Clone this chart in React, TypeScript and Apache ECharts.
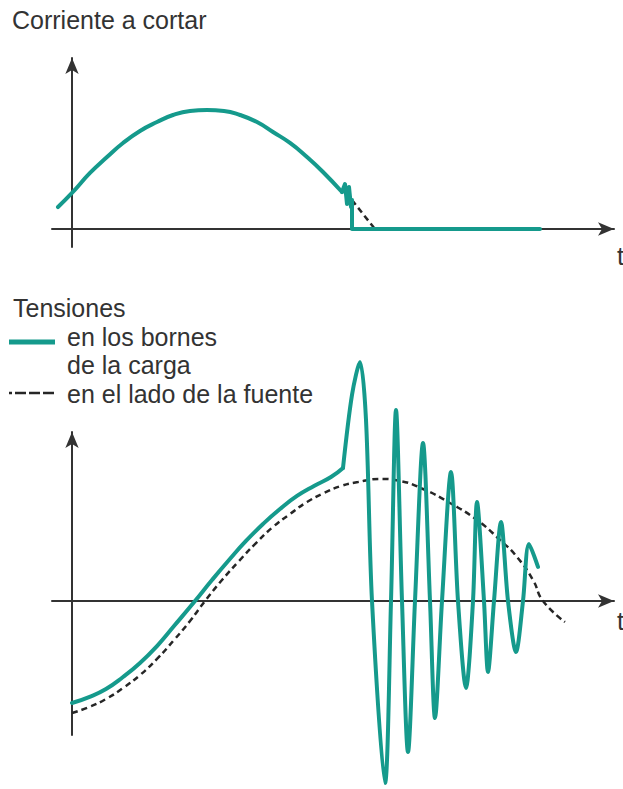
import { useEffect, useRef } from "react";
import * as echarts from "echarts";

const TEAL = "#159a8c";
const INK = "#333333";
const DASH = "#262626";
const FONT = "'Liberation Sans', Arial, sans-serif";

// Upper panel: current to be interrupted (time in arbitrary units, current per-unit of its peak)
const currentT = [-7, 0, 9, 17.5, 25.5, 34, 42.5, 50.5, 59, 67.5, 76, 84, 92.5, 100.5, 109, 117.5, 125.5, 135];
const currentI = [0.185, 0.303, 0.471, 0.605, 0.723, 0.824, 0.899, 0.958, 0.992, 1.0, 0.992, 0.958, 0.899, 0.815, 0.723, 0.605, 0.479, 0.311];
// current chopping, then zero current after the break
const chopT = [135, 136.5, 137.5, 138.5, 139.5, 140, 140, 234];
const chopI = [0.311, 0.378, 0.21, 0.353, 0.185, 0.244, 0, 0];
// natural zero the current would have reached
const prospectiveT = [140, 145.5, 151.5];
const prospectiveI = [0.244, 0.126, 0];

// Lower panel: voltages (per-unit of the source peak)
const sourceT = [0, 8.5, 17, 25.5, 34, 42.5, 51, 59, 66.5, 75, 83.5, 92, 100.5, 109, 117.5, 126, 134.5, 143, 154, 164, 175.5, 189, 202.5, 214, 222.5, 230.5, 235.5, 246.5];
const sourceV = [-0.918, -0.869, -0.803, -0.713, -0.607, -0.475, -0.32, -0.164, 0, 0.172, 0.328, 0.475, 0.607, 0.713, 0.811, 0.885, 0.943, 0.975, 1.0, 0.984, 0.918, 0.803, 0.664, 0.5, 0.361, 0.172, 0, -0.172];

const loadT = [0, 8.5, 17, 25.5, 34, 42.5, 51, 61.5, 70, 78.5, 87, 95.5, 104, 112.5, 121, 129.5, 135.5];
const loadV = [-0.836, -0.787, -0.721, -0.623, -0.508, -0.369, -0.205, 0, 0.172, 0.336, 0.492, 0.631, 0.754, 0.861, 0.943, 1.016, 1.09];

// load-side oscillation after the current is chopped
const recoveryT = [135.5, 140, 144, 147, 150, 156.5, 159.5, 162, 165, 168, 171.5, 175.5, 179, 181.5, 185, 189.5, 193, 197, 200.5, 202.5, 206, 208, 211, 214.5, 218, 222, 225.5, 228.5, 233];
const recoveryV = [1.09, 1.689, 1.959, 1.484, 0, -1.492, 0, 1.566, 0, -1.238, 0, 1.295, 0, -0.959, 0, 1.057, 0, -0.713, 0, 0.811, 0, -0.582, 0, 0.648, 0, -0.418, 0, 0.467, 0.279];

const zip = (xs: number[], ys: number[]) => xs.map((x, i) => [x, ys[i]]);

const axisArrow = {
  show: true,
  onZero: true,
  symbol: ["none", "arrow"],
  symbolSize: [10, 16],
  lineStyle: { color: INK, width: 2 },
};

function makeXAxis(gridIndex: number) {
  return {
    type: "value",
    gridIndex,
    min: -10,
    max: 271,
    axisLine: axisArrow,
    axisTick: { show: false },
    axisLabel: { show: false },
    splitLine: { show: false },
  };
}

function makeYAxis(gridIndex: number, min: number, max: number) {
  return {
    type: "value",
    gridIndex,
    min,
    max,
    axisLine: axisArrow,
    axisTick: { show: false },
    axisLabel: { show: false },
    splitLine: { show: false },
  };
}

const label = (text: string, x: number, y: number) => ({
  type: "text",
  x,
  y,
  silent: true,
  style: {
    text,
    fill: INK,
    font: `25px ${FONT}`,
    textAlign: "left",
    verticalAlign: "middle",
  },
});

export default function App() {
  const ref = useRef<HTMLDivElement>(null);

  useEffect(() => {
    if (!ref.current) return;
    const chart = echarts.init(ref.current, undefined, { renderer: "svg" });

    const tealLine = { color: TEAL, width: 4, cap: "round", join: "round" };
    const dashLine = { color: DASH, width: 2.5, type: [6, 4] };

    chart.setOption({
      animation: false,
      backgroundColor: "#ffffff",
      grid: [
        { left: 52, right: 9, top: 58, bottom: 542 },
        { left: 52, right: 9, top: 432, bottom: 54 },
      ],
      xAxis: [makeXAxis(0), makeXAxis(1)],
      yAxis: [makeYAxis(0, -0.151, 1.437), makeYAxis(1, -1.098, 1.385)],
      series: [
        {
          name: "prospective",
          type: "line",
          xAxisIndex: 0,
          yAxisIndex: 0,
          data: zip(prospectiveT, prospectiveI),
          symbol: "none",
          lineStyle: dashLine,
          clip: false,
          z: 2,
        },
        {
          name: "current",
          type: "line",
          xAxisIndex: 0,
          yAxisIndex: 0,
          data: zip(currentT, currentI),
          smooth: 0.5,
          symbol: "none",
          lineStyle: tealLine,
          clip: false,
          z: 3,
        },
        {
          name: "chop",
          type: "line",
          xAxisIndex: 0,
          yAxisIndex: 0,
          data: zip(chopT, chopI),
          symbol: "none",
          lineStyle: tealLine,
          clip: false,
          z: 3,
        },
        {
          name: "en el lado de la fuente",
          type: "line",
          xAxisIndex: 1,
          yAxisIndex: 1,
          data: zip(sourceT, sourceV),
          smooth: 0.5,
          symbol: "none",
          lineStyle: dashLine,
          clip: false,
          z: 2,
        },
        {
          name: "en los bornes de la carga",
          type: "line",
          xAxisIndex: 1,
          yAxisIndex: 1,
          data: zip(loadT, loadV),
          smooth: 0.5,
          symbol: "none",
          lineStyle: tealLine,
          clip: false,
          z: 3,
        },
        {
          name: "recovery",
          type: "line",
          xAxisIndex: 1,
          yAxisIndex: 1,
          data: zip(recoveryT, recoveryV),
          smooth: 0.3,
          symbol: "none",
          lineStyle: tealLine,
          clip: false,
          z: 3,
        },
      ],
      graphic: [
        label("Corriente a cortar", 12, 20),
        label("t", 617, 256),
        label("Tensiones", 13, 308),
        {
          type: "line",
          silent: true,
          shape: { x1: 9, y1: 342, x2: 55, y2: 342 },
          style: { stroke: TEAL, lineWidth: 5 },
        },
        label("en los bornes", 67, 337),
        label("de la carga", 67, 365),
        {
          type: "line",
          silent: true,
          shape: { x1: 9, y1: 393, x2: 55, y2: 393 },
          style: { stroke: DASH, lineWidth: 2.5, lineDash: [11, 3], lineDashOffset: 8 },
        },
        label("en el lado de la fuente", 67, 394),
        label("t", 617, 621),
      ],
    });

    return () => chart.dispose();
  }, []);

  return (
    <div
      ref={ref}
      style={{ position: "fixed", left: 0, top: 0, width: 623, height: 789, background: "#fff" }}
    />
  );
}
